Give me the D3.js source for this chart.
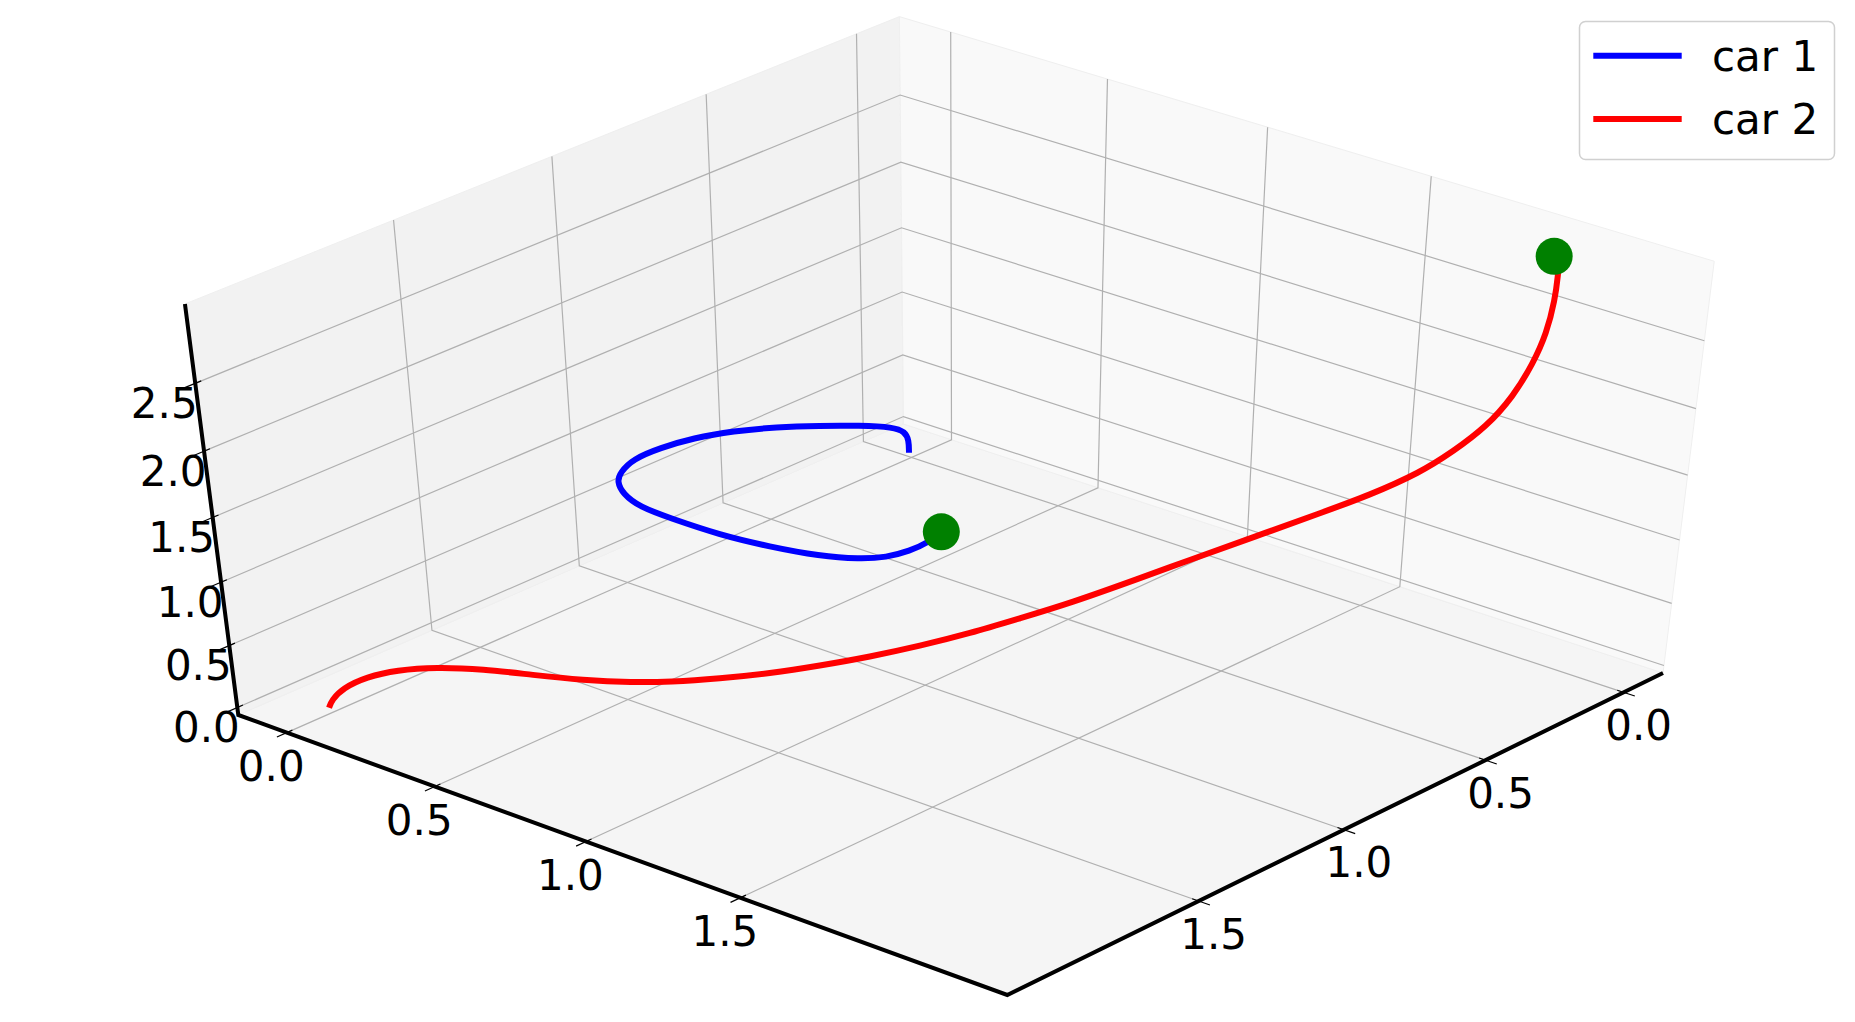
<!DOCTYPE html>
<html>
<head>
<meta charset="utf-8">
<title>car 1, car 2</title>
<style>
    html, body { margin: 0; background: #fff; }
    svg { display: block; }
    text { font-family: "DejaVu Sans", sans-serif; fill: #000; }
</style>
</head>
<body>
<svg id="chart" width="1855" height="1022"></svg>
<script src="https://cdn.jsdelivr.net/npm/d3@7"></script>
<script>
// ========== DATA ==========

const car1X = [0.008, -0.016, -0.039, -0.055, -0.044, -0.021, 0.009, 0.052, 0.109, 0.181, 0.247, 0.333, 0.388, 0.484, 0.621, 0.804, 1.088, 1.347, 1.588, 1.763, 1.866, 1.934, 1.981, 2.005];
const car1Y = [0.017, -0.008, -0.018, 0.006, 0.137, 0.301, 0.480, 0.670, 0.861, 1.042, 1.196, 1.322, 1.386, 1.462, 1.542, 1.626, 1.750, 1.853, 1.942, 1.998, 2.021, 2.020, 2.013, 1.997];
const car1Z = [0.00, 0.06, 0.10, 0.15, 0.30, 0.48, 0.67, 0.86, 1.04, 1.20, 1.32, 1.41, 1.45, 1.51, 1.60, 1.75, 1.98, 2.21, 2.43, 2.61, 2.73, 2.83, 2.92, 3.00];

const car2X = [0.007, -0.010, -0.024, 0.006, 0.066, 0.177, 0.326, 0.503, 0.669, 0.828, 0.935, 1.064, 1.191, 1.307, 1.418, 1.521, 1.617, 1.703, 1.789, 1.897, 1.970, 2.065, 2.166, 2.244, 2.302, 2.325, 2.334, 2.307, 2.256, 2.200, 2.127, 2.061, 2.014];
const car2Y = [2.005, 1.979, 1.928, 1.876, 1.833, 1.807, 1.797, 1.803, 1.802, 1.795, 1.780, 1.746, 1.711, 1.666, 1.617, 1.561, 1.498, 1.426, 1.355, 1.243, 1.160, 1.058, 0.952, 0.877, 0.780, 0.699, 0.600, 0.483, 0.360, 0.253, 0.144, 0.059, 0.002];
const car2Z = [0.00, 0.02, 0.05, 0.11, 0.17, 0.26, 0.36, 0.47, 0.57, 0.68, 0.76, 0.86, 0.97, 1.08, 1.19, 1.30, 1.41, 1.52, 1.63, 1.79, 1.90, 2.04, 2.19, 2.31, 2.42, 2.51, 2.60, 2.68, 2.76, 2.83, 2.91, 2.96, 3.00];

// where the two cars end up
const goalX = [2.005, 2.002];
const goalY = [1.997, 0.006];
const goalZ = [3, 3];

const xTicks = [0, 0.5, 1, 1.5];
const yTicks = [0, 0.5, 1, 1.5];
const zTicks = [0, 0.5, 1, 1.5, 2, 2.5];

const xLimits = [-0.166, 2.340];
const yLimits = [-0.145, 2.139];
const zLimits = [-0.061, 3.071];

const legendLabels = ["car 1", "car 2"];
const legendColors = ["#0000ff", "#ff0000"];

// ========== PROJECTION ==========

// the box is [0,1] on each axis, these map it to the screen (perspective)
const x = d3.scaleLinear().domain(xLimits).range([0, 1]);
const y = d3.scaleLinear().domain(yLimits).range([0, 1]);
const z = d3.scaleLinear().domain(zLimits).range([0, 1]);

const camU = [755.94694, 240.83535, -0.05478];
const camV = [-756.28319, 281.29496, -0.06048];
const camW = [-69.64968, -455.5438, -0.07234];
const camO = [1007.63625, 472.86969, 1.11526];

function projectBox(u, v, w) {
    const p = [0, 1, 2].map(i => u * camU[i] + v * camV[i] + w * camW[i] + camO[i]);
    return [p[0] / p[2], p[1] / p[2]];
}

function project(px, py, pz) {
    return projectBox(x(px), y(py), z(pz));
}

const [xMin, xMax] = xLimits;
const [yMin, yMax] = yLimits;
const [zMin, zMax] = zLimits;

const svg = d3.select("#chart");
const straight = d3.line();
const smooth = d3.line().curve(d3.curveBasis);

function polyline(parent, points3d) {
    return parent.append("path")
        .attr("d", straight(points3d.map(p => project(...p))))
        .attr("fill", "none");
}

// ========== PANES ==========

const panes = svg.append("g");
const paneCorners = [
    { color: "#f5f5f5", points: [[xMin, yMin, zMin], [xMax, yMin, zMin], [xMax, yMax, zMin], [xMin, yMax, zMin]] },
    { color: "#f2f2f2", points: [[xMin, yMin, zMin], [xMin, yMax, zMin], [xMin, yMax, zMax], [xMin, yMin, zMax]] },
    { color: "#f9f9f9", points: [[xMin, yMin, zMin], [xMax, yMin, zMin], [xMax, yMin, zMax], [xMin, yMin, zMax]] }
];
paneCorners.forEach(d => {
    polyline(panes, d.points.concat([d.points[0]]))
        .attr("fill", d.color)
        .attr("stroke", "#efefef")
        .attr("stroke-width", 1);
});

// ========== GRID ==========

const grid = svg.append("g")
    .attr("stroke", "#b0b0b0")
    .attr("stroke-width", 1.2);

xTicks.forEach(t => polyline(grid, [[t, yMax, zMin], [t, yMin, zMin], [t, yMin, zMax]]));
yTicks.forEach(t => polyline(grid, [[xMax, t, zMin], [xMin, t, zMin], [xMin, t, zMax]]));
zTicks.forEach(t => polyline(grid, [[xMin, yMax, t], [xMin, yMin, t], [xMax, yMin, t]]));

// ========== AXES ==========

polyline(svg, [[xMin, yMax, zMax], [xMin, yMax, zMin], [xMax, yMax, zMin], [xMax, yMin, zMin]])
    .attr("stroke", "#000")
    .attr("stroke-width", 4)
    .attr("stroke-linejoin", "miter");

const tickMarks = svg.append("g").attr("stroke", "#000").attr("stroke-width", 1.2);
const tickIn = 0.008;
const tickOut = 0.014;

function tickLine(a, b) {
    tickMarks.append("path").attr("d", straight([a, b]));
}

xTicks.forEach(t => tickLine(projectBox(x(t), 1 - tickIn, 0), projectBox(x(t), 1 + tickOut, 0)));
yTicks.forEach(t => tickLine(projectBox(1 - tickIn, y(t), 0), projectBox(1 + tickOut, y(t), 0)));
zTicks.forEach(t => tickLine(projectBox(0, 1 - tickIn, z(t)), projectBox(0, 1 + tickOut, z(t))));

function tickLabels(ticks, position, dx, dy) {
    svg.append("g")
        .attr("font-size", 42)
        .attr("text-anchor", "middle")
        .selectAll("text")
        .data(ticks)
        .join("text")
        .attr("x", d => position(d)[0] + dx)
        .attr("y", d => position(d)[1] + dy + 15)
        .text(d => d.toFixed(1));
}

tickLabels(xTicks, t => project(t, yMax, zMin), -15.5, 33);
tickLabels(yTicks, t => project(xMax, t, zMin), 15, 32.5);
tickLabels(zTicks, t => project(xMin, yMax, t), -31, 19.5);

// ========== TRAJECTORIES ==========

function trajectory(xs, ys, zs, color) {
    svg.append("path")
        .attr("d", smooth(xs.map((d, i) => project(d, ys[i], zs[i]))))
        .attr("fill", "none")
        .attr("stroke", color)
        .attr("stroke-width", 6);
}

trajectory(car1X, car1Y, car1Z, legendColors[0]);
trajectory(car2X, car2Y, car2Z, legendColors[1]);

svg.append("g")
    .selectAll("circle")
    .data(goalX)
    .join("circle")
    .attr("cx", (d, i) => project(d, goalY[i], goalZ[i])[0])
    .attr("cy", (d, i) => project(d, goalY[i], goalZ[i])[1])
    .attr("r", 18.5)
    .attr("fill", "#008000");

// ========== LEGEND ==========

const legend = svg.append("g");

legend.append("rect")
    .attr("x", 1579.5)
    .attr("y", 21.5)
    .attr("width", 255)
    .attr("height", 138)
    .attr("rx", 6)
    .attr("fill", "#fff")
    .attr("stroke", "#d0d0d0")
    .attr("stroke-width", 1.5);

const legendRow = d3.scalePoint().domain(legendLabels).range([55.7, 119]);

legend.selectAll("line")
    .data(legendLabels)
    .join("line")
    .attr("x1", 1593.3)
    .attr("x2", 1681.7)
    .attr("y1", d => legendRow(d))
    .attr("y2", d => legendRow(d))
    .attr("stroke", (d, i) => legendColors[i])
    .attr("stroke-width", 6);

legend.selectAll("text")
    .data(legendLabels)
    .join("text")
    .attr("x", 1712)
    .attr("y", d => legendRow(d) + 15)
    .attr("font-size", 42)
    .text(d => d);
</script>
</body>
</html>
